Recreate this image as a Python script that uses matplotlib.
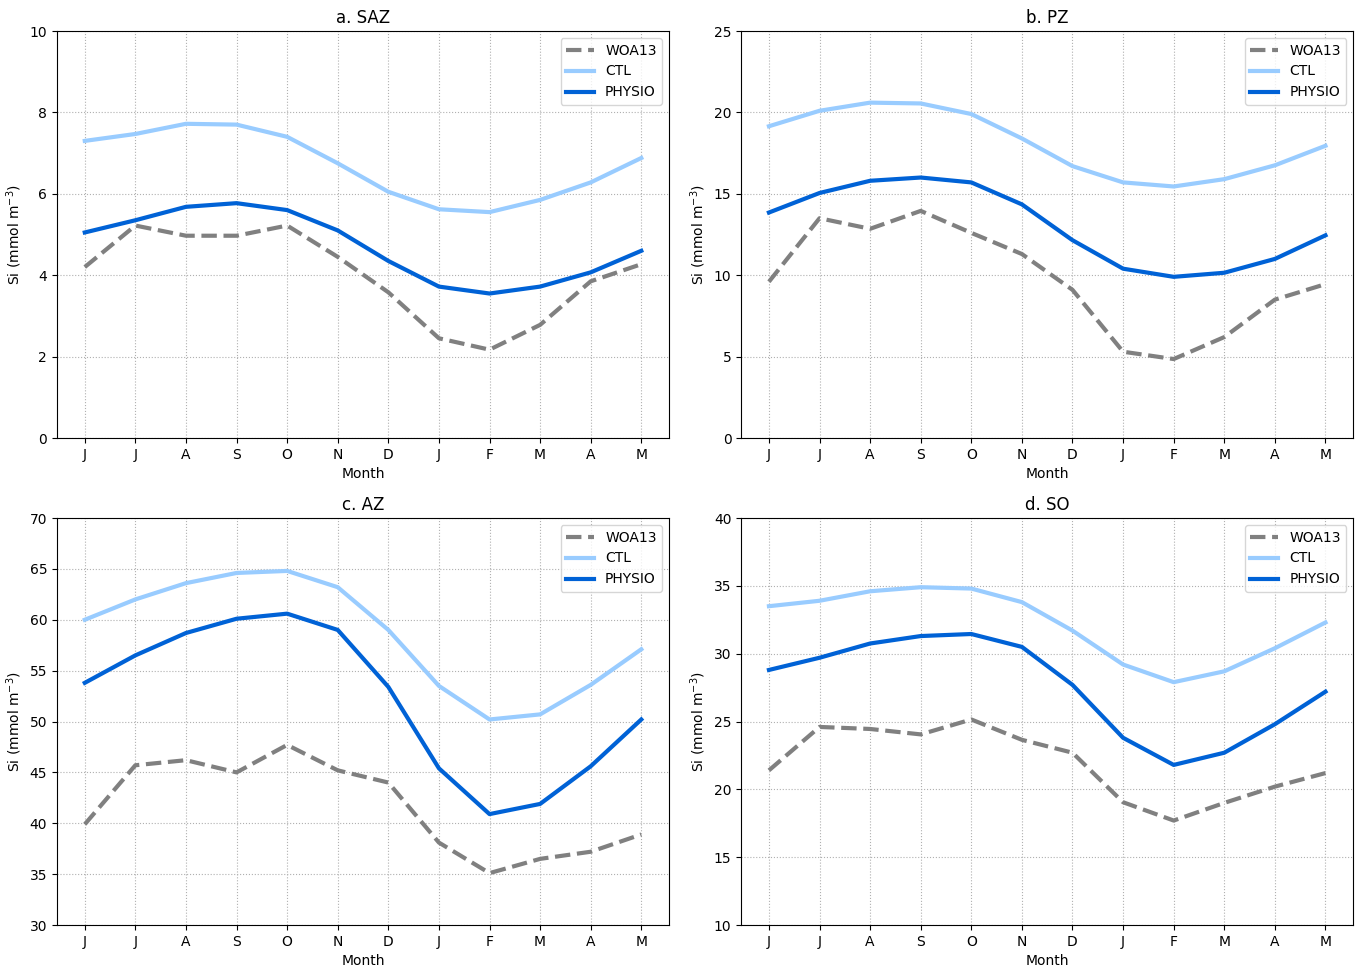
import matplotlib
matplotlib.use("Agg")
import matplotlib.pyplot as plt

months = ["J", "J", "A", "S", "O", "N", "D", "J", "F", "M", "A", "M"]

# a. SAZ
saz_woa = [4.2, 5.22, 4.97, 4.97, 5.22, 4.45, 3.58, 2.45, 2.17, 2.78, 3.85, 4.27]
saz_ctl = [7.3, 7.47, 7.72, 7.70, 7.40, 6.75, 6.05, 5.62, 5.55, 5.85, 6.28, 6.88]
saz_physio = [5.05, 5.35, 5.68, 5.77, 5.60, 5.10, 4.35, 3.72, 3.55, 3.72, 4.07, 4.60]

# b. PZ
pz_woa = [9.6, 13.5, 12.85, 13.95, 12.6, 11.3, 9.1, 5.3, 4.85, 6.2, 8.5, 9.45]
pz_ctl = [19.15, 20.1, 20.6, 20.55, 19.9, 18.4, 16.7, 15.7, 15.45, 15.9, 16.75, 17.95]
pz_physio = [13.85, 15.05, 15.8, 16.0, 15.7, 14.35, 12.15, 10.4, 9.9, 10.15, 11.0, 12.45]

# c. AZ
az_woa = [39.9, 45.7, 46.2, 45.0, 47.7, 45.2, 44.0, 38.1, 35.1, 36.5, 37.2, 38.9]
az_ctl = [60.0, 62.0, 63.6, 64.6, 64.8, 63.2, 59.0, 53.5, 50.2, 50.7, 53.6, 57.1]
az_physio = [53.8, 56.5, 58.7, 60.1, 60.6, 59.0, 53.4, 45.4, 40.9, 41.9, 45.6, 50.2]

# d. SO
so_woa = [21.4, 24.6, 24.45, 24.05, 25.15, 23.65, 22.7, 19.05, 17.7, 19.0, 20.2, 21.2]
so_ctl = [33.5, 33.9, 34.6, 34.9, 34.8, 33.8, 31.7, 29.2, 27.9, 28.7, 30.4, 32.3]
so_physio = [28.8, 29.7, 30.75, 31.3, 31.45, 30.5, 27.7, 23.8, 21.8, 22.7, 24.8, 27.2]

panels = [
    ("a. SAZ", saz_woa, saz_ctl, saz_physio, (0, 10), [0, 2, 4, 6, 8, 10]),
    ("b. PZ", pz_woa, pz_ctl, pz_physio, (0, 25), [0, 5, 10, 15, 20, 25]),
    ("c. AZ", az_woa, az_ctl, az_physio, (30, 70), [30, 35, 40, 45, 50, 55, 60, 65, 70]),
    ("d. SO", so_woa, so_ctl, so_physio, (10, 40), [10, 15, 20, 25, 30, 35, 40]),
]

fig, axes = plt.subplots(2, 2, figsize=(13.56, 9.69), dpi=100)
fig.subplots_adjust(left=0.042, right=0.998, top=0.968, bottom=0.0454,
                    wspace=0.1176, hspace=0.1966)

x = list(range(len(months)))
for ax, (title, woa, ctl, physio, ylim, yticks) in zip(axes.flat, panels):
    ax.plot(x, woa, color="#808080", linestyle="--", linewidth=3, label="WOA13")
    ax.plot(x, ctl, color="#99ccff", linewidth=3, label="CTL")
    ax.plot(x, physio, color="#0062d6", linewidth=3, label="PHYSIO")
    ax.set_xlim(-0.55, 11.55)
    ax.set_ylim(*ylim)
    ax.set_yticks(yticks)
    ax.set_xticks(x)
    ax.set_xticklabels(months)
    ax.grid(True, linestyle=":", color="#b0b0b0")
    ax.set_title(title, fontsize=12)
    ax.set_xlabel("Month")
    ax.set_ylabel("Si (mmol m$^{-3}$)")
    ax.legend(loc="upper right")

fig.savefig("out.png")
